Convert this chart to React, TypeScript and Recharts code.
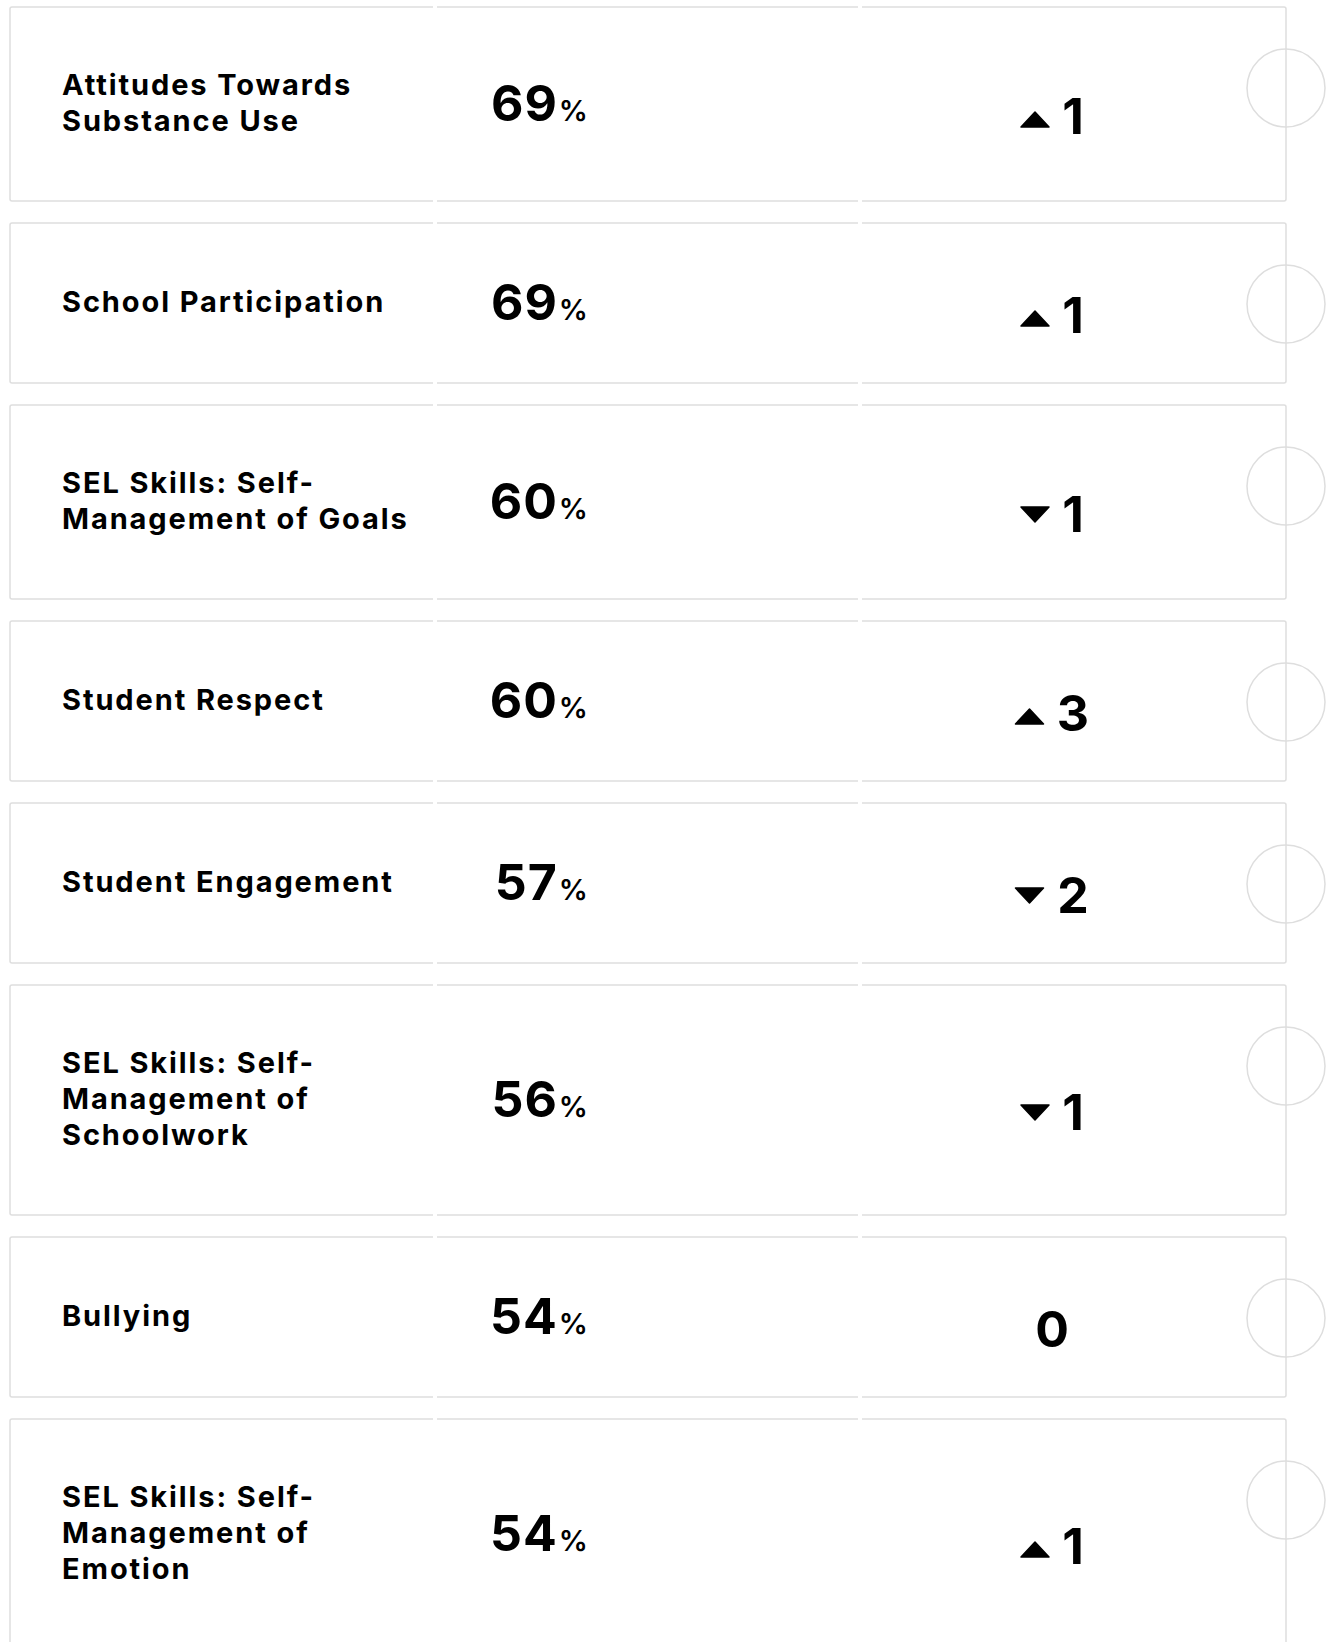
import { ScatterChart, Scatter, XAxis, YAxis } from "recharts";

// Metric names (line breaks as shown in the cards)
const metrics = [
  "Attitudes Towards\nSubstance Use",
  "School Participation",
  "SEL Skills: Self-\nManagement of Goals",
  "Student Respect",
  "Student Engagement",
  "SEL Skills: Self-\nManagement of\nSchoolwork",
  "Bullying",
  "SEL Skills: Self-\nManagement of\nEmotion",
];
// % favorable
const favorable = [69, 69, 60, 60, 57, 56, 54, 54];
// change vs last period
const change = [1, 1, -1, 3, -2, -1, 0, 1];

const W = 1334;
const H = 1642;
const COLS = [10, 435, 860, 1286];
const ROW_H: Record<number, number> = { 1: 160, 2: 194, 3: 230 };
const GAP = 22;
const FIRST_TOP = 7;
const FONT = "Inter, 'Open Sans', sans-serif";
const BORDER = "#dedede";

let cursor = FIRST_TOP;
const rows = metrics.map((m, i) => {
  const lines = m.split("\n");
  const h = ROW_H[lines.length];
  const row = { x: 0, y: cursor + h / 2, h, lines, pct: favorable[i], delta: change[i] };
  cursor += h + GAP;
  return row;
});

function RowCard(props: any) {
  const { cx, cy, payload } = props;
  const { h, lines, pct, delta } = payload;
  const top = cy - h / 2;
  const bottom = cy + h / 2;
  const c = COLS.map((v) => cx + v);

  const first = `M${c[1] - 2},${top} H${c[0] + 2} Q${c[0]},${top} ${c[0]},${top + 2} V${bottom - 2} Q${c[0]},${bottom} ${c[0] + 2},${bottom} H${c[1] - 2}`;
  const mid = `M${c[1] + 2},${top} H${c[2] - 2} M${c[1] + 2},${bottom} H${c[2] - 2}`;
  const last = `M${c[2] + 2},${top} H${c[3] - 2} Q${c[3]},${top} ${c[3]},${top + 2} V${bottom - 2} Q${c[3]},${bottom} ${c[3] - 2},${bottom} H${c[2] + 2}`;

  const lineH = 36;
  const firstBase = cy + 9 - ((lines.length - 1) * lineH) / 2;

  const digits = String(Math.abs(delta));
  const inkW = digits === "1" ? 18 : 29;
  const numX = delta === 0 ? cx + 1052 : cx + 1073;
  const triC = numX - inkW / 2 - 15 - 14;

  return (
    <g>
      <path d={first} fill="none" stroke={BORDER} strokeWidth={1.5} />
      <path d={mid} fill="none" stroke={BORDER} strokeWidth={1.5} />
      <path d={last} fill="none" stroke={BORDER} strokeWidth={1.5} />
      <circle cx={c[3]} cy={top + 81} r={39} fill="none" stroke={BORDER} strokeWidth={1.5} />

      <text
        x={cx + 62}
        y={firstBase}
        fontFamily={FONT}
        fontSize={29}
        fontWeight={700}
        letterSpacing={1.9}
        fill="#000"
      >
        {lines.map((l: string, i: number) => (
          <tspan key={i} x={cx + 62} dy={i === 0 ? 0 : lineH}>
            {l}
          </tspan>
        ))}
      </text>

      <text x={cx + 588} y={cy + 17} textAnchor="end" fontFamily={FONT} fill="#000">
        <tspan fontSize={50} fontWeight={700} letterSpacing={1}>{pct}</tspan>
        <tspan fontSize={29} fontWeight={600} dx={1}>%</tspan>
      </text>

      {delta > 0 && (
        <polygon
          points={`${triC - 14},${cy + 23} ${triC + 14},${cy + 23} ${triC},${cy + 8}`}
          fill="#000"
          stroke="#000"
          strokeWidth={1.5}
          strokeLinejoin="round"
        />
      )}
      {delta < 0 && (
        <polygon
          points={`${triC - 14},${cy + 5} ${triC + 14},${cy + 5} ${triC},${cy + 20}`}
          fill="#000"
          stroke="#000"
          strokeWidth={1.5}
          strokeLinejoin="round"
        />
      )}
      <text x={numX} y={cy + 30} textAnchor="middle" fontFamily={FONT} fontSize={50} fontWeight={700} fill="#000">
        {digits}
      </text>
    </g>
  );
}

export default function App() {
  return (
    <div style={{ position: "absolute", left: 0, top: 0, width: W, height: H, background: "#fff", overflow: "hidden" }}>
      <ScatterChart width={W} height={H} margin={{ top: 0, right: 0, bottom: 0, left: 0 }}>
        <XAxis type="number" dataKey="x" domain={[0, 1]} hide />
        <YAxis type="number" dataKey="y" domain={[0, H]} reversed hide />
        <Scatter data={rows} shape={RowCard} isAnimationActive={false} />
      </ScatterChart>
    </div>
  );
}
